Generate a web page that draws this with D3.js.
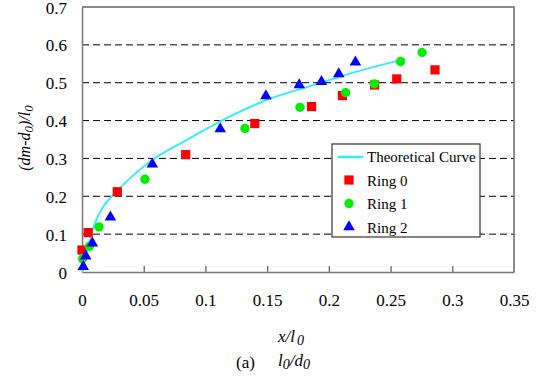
<!DOCTYPE html>
<html>
<head>
<meta charset="utf-8">
<script src="https://cdnjs.cloudflare.com/ajax/libs/d3/7.8.5/d3.min.js"></script>
<style>
  body { margin: 0; background: #fff; }
  svg { display: block; }
</style>
</head>
<body>
<svg id="chart"></svg>
<script>
// values
const ring0X = [0, 0.005, 0.0286, 0.084, 0.140, 0.186, 0.211, 0.237, 0.255, 0.286];
const ring0Y = [0.058, 0.104, 0.212, 0.310, 0.392, 0.437, 0.466, 0.494, 0.510, 0.534];

const ring1X = [0.0005, 0.006, 0.0138, 0.051, 0.132, 0.1766, 0.2136, 0.2368, 0.258, 0.2755];
const ring1Y = [0.035, 0.068, 0.119, 0.245, 0.379, 0.435, 0.474, 0.497, 0.556, 0.580];

const ring2X = [0.001, 0.003, 0.0084, 0.023, 0.057, 0.112, 0.149, 0.176, 0.194, 0.208, 0.2215];
const ring2Y = [0.014, 0.042, 0.076, 0.145, 0.285, 0.378, 0.465, 0.494, 0.503, 0.523, 0.554];

const curveX = [0, 0.0038, 0.0065, 0.0105, 0.0173, 0.028, 0.039, 0.057, 0.085, 0.112, 0.150, 0.193, 0.217, 0.262];
const curveY = [0, 0.049, 0.085, 0.129, 0.173, 0.212, 0.248, 0.296, 0.349, 0.398, 0.455, 0.499, 0.524, 0.563];

const xTicks = [0, 0.05, 0.1, 0.15, 0.2, 0.25, 0.3, 0.35];
const yTicks = [0, 0.1, 0.2, 0.3, 0.4, 0.5, 0.6, 0.7];
const legendLabels = ["Theoretical Curve", "Ring 0", "Ring 1", "Ring 2"];

const FONT = '"Liberation Serif"';
const width = 538, height = 379;
const margin = {top: 7, right: 24, bottom: 107, left: 82};
const innerW = width - margin.left - margin.right;
const innerH = height - margin.top - margin.bottom;

const svg = d3.select("#chart").attr("width", width).attr("height", height);
const g = svg.append("g").attr("transform", `translate(${margin.left},${margin.top})`);

const x = d3.scaleLinear().domain([0, 0.35]).range([0, innerW]);
const y = d3.scaleLinear().domain([0, 0.7]).range([innerH, 0]);
const fmt = d => String(+d.toFixed(2));

// dashed grid
g.append("g")
  .selectAll("line")
  .data(yTicks.filter(d => d > 0 && d < 0.7))
  .join("line")
    .attr("x1", 0).attr("x2", innerW)
    .attr("y1", d => y(d)).attr("y2", d => y(d))
    .attr("stroke", "#000")
    .attr("stroke-width", 1)
    .attr("stroke-dasharray", "7,4");

// frame (top, right)
g.append("path")
  .attr("d", `M0,0H${innerW}V${innerH}`)
  .attr("fill", "none")
  .attr("stroke", "#666")
  .attr("stroke-width", 1.5);

// axes
const xAxis = d3.axisBottom(x).tickValues(xTicks).tickFormat(fmt)
  .tickSizeInner(-6).tickSizeOuter(0).tickPadding(22);
const yAxis = d3.axisLeft(y).tickValues(yTicks).tickFormat(fmt)
  .tickSizeInner(0).tickSizeOuter(0).tickPadding(15);

const xAxisG = g.append("g").attr("transform", `translate(0,${innerH})`).call(xAxis);
const yAxisG = g.append("g").call(yAxis);

[xAxisG, yAxisG].forEach(a => {
  a.attr("font-size", null);
  a.select(".domain").attr("stroke", "#777").attr("stroke-width", 1.5);
  a.selectAll(".tick line").attr("stroke", "#666").attr("stroke-width", 1.3);
  a.selectAll(".tick text")
    .attr("fill", "#000")
    .style("font-family", FONT)
    .style("font-size", "17px");
});
yAxisG.selectAll(".tick text").attr("dy", "0.36em");
xAxisG.selectAll(".tick").filter(d => d === 0 || d === 0.35).select("line").remove();

// theoretical curve
const curvePts = curveX.map((v, i) => [v, curveY[i]]);
g.append("path")
  .datum(curvePts)
  .attr("fill", "none")
  .attr("stroke", "#33eeff")
  .attr("stroke-width", 2)
  .attr("d", d3.line().x(d => x(d[0])).y(d => y(d[1])).curve(d3.curveMonotoneX));

// markers
const series = [
  {xs: ring0X, ys: ring0Y, sym: d3.symbolSquare, size: 85, color: "#ff0000"},
  {xs: ring1X, ys: ring1Y, sym: d3.symbolCircle, size: 68, color: "#00ee00"},
  {xs: ring2X, ys: ring2Y, sym: d3.symbolTriangle, size: 58, color: "#0000ff"}
];
series.forEach(s => {
  g.append("g")
    .selectAll("path")
    .data(s.xs.map((v, i) => [v, s.ys[i]]))
    .join("path")
      .attr("transform", d => `translate(${x(d[0])},${y(d[1])})`)
      .attr("d", d3.symbol().type(s.sym).size(s.size))
      .attr("fill", s.color);
});

// legend
const lg = svg.append("g").attr("transform", "translate(332,144)");
lg.append("rect")
  .attr("width", 148).attr("height", 93)
  .attr("fill", "#fff")
  .attr("stroke", "#444")
  .attr("stroke-width", 1.3);
lg.append("line")
  .attr("x1", 6).attr("x2", 31).attr("y1", 13).attr("y2", 13)
  .attr("stroke", "#33eeff").attr("stroke-width", 2.5);
series.forEach((s, i) => {
  lg.append("path")
    .attr("transform", `translate(17,${36 + i * 23.5})`)
    .attr("d", d3.symbol().type(s.sym).size(s.size))
    .attr("fill", s.color);
});
lg.selectAll("text.lbl")
  .data(legendLabels)
  .join("text")
    .attr("class", "lbl")
    .attr("x", 35)
    .attr("y", (d, i) => 18 + i * 23.5)
    .style("font-family", FONT)
    .style("font-size", "15px")
    .text(d => d);

// axis titles
const yt = svg.append("text")
  .attr("transform", "translate(30,138) rotate(-90)")
  .attr("text-anchor", "middle")
  .style("font-family", FONT)
  .style("font-size", "16px")
  .style("font-style", "italic");
yt.append("tspan").text("(dm-d");
yt.append("tspan").attr("dy", 3).style("font-size", "13px").text("0");
yt.append("tspan").attr("dy", -3).text(")/l");
yt.append("tspan").attr("dy", 3).style("font-size", "13px").text("0");

const xt = svg.append("text")
  .attr("x", 278).attr("y", 342)
  .style("font-family", FONT)
  .style("font-size", "17px")
  .style("font-style", "italic");
xt.append("tspan").text("x/l");
xt.append("tspan").attr("dy", 3).attr("dx", 2).style("font-size", "14px").text("0");

svg.append("text")
  .attr("x", 236).attr("y", 368)
  .style("font-family", FONT)
  .style("font-size", "17px")
  .text("(a)");

const st = svg.append("text")
  .attr("x", 278).attr("y", 366)
  .style("font-family", FONT)
  .style("font-size", "17px")
  .style("font-style", "italic");
st.append("tspan").text("l");
st.append("tspan").attr("dy", 3).style("font-size", "14px").text("0");
st.append("tspan").attr("dy", -3).text("/d");
st.append("tspan").attr("dy", 3).style("font-size", "14px").text("0");
</script>
</body>
</html>
